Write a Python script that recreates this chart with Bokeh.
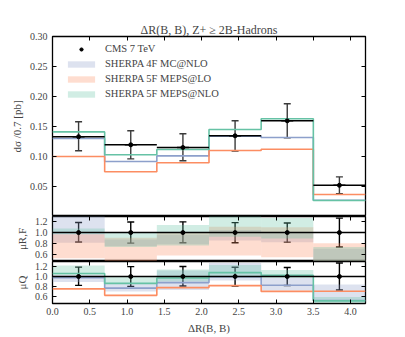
import numpy as np
from bokeh.plotting import figure
from bokeh.layouts import column
from bokeh.models import (ColumnDataSource, Whisker, TeeHead, LinearAxis, FixedTicker,
                          Range1d, Legend, LegendItem, NumeralTickFormatter)
from bokeh.embed import file_html
from bokeh.resources import INLINE

# ---------------- data ----------------
edges = [0.0, 0.7, 1.4, 2.1, 2.8, 3.5, 4.2]
cms = [0.133, 0.1195, 0.115, 0.1345, 0.1595, 0.052]
cms_lo = [0.1095, 0.096, 0.093, 0.109, 0.131, 0.038]
cms_hi = [0.158, 0.143, 0.138, 0.1595, 0.188, 0.066]
mc4f = [0.130, 0.0917, 0.101, 0.134, 0.1317, 0.027]
lo5f = [0.100, 0.0745, 0.0895, 0.110, 0.112, 0.0367]
nlo5f = [0.141, 0.103, 0.1117, 0.145, 0.163, 0.0267]

# mu_{R,F} variation bands (ratio to data)
rf_4f_lo = [0.81, 0.75, 0.78, 0.85, 0.82, 0.40]
rf_4f_hi = [1.40, 0.87, 0.96, 1.05, 1.00, 0.70]
rf_lo_lo = [0.52, 0.40, 0.57, 0.57, 0.54, 0.40]
rf_lo_hi = [0.97, 0.905, 1.01, 1.11, 1.10, 0.80]
rf_nlo_lo = [0.97, 0.73, 0.76, 0.92, 0.89, 0.40]
rf_nlo_hi = [1.076, 0.99, 1.14, 1.40, 1.27, 0.73]

# mu_Q variation bands (ratio to data)
q_4f_lo = [0.89, 0.70, 0.73, 0.92, 0.72, 0.52]
q_4f_hi = [1.03, 0.87, 1.12, 1.27, 0.97, 0.84]
q_nlo_lo = [1.03, 0.87, 0.90, 0.98, 0.97, 0.47]
q_nlo_hi = [1.22, 1.00, 1.14, 1.23, 1.13, 0.59]

labels = ["CMS 7 TeV", "SHERPA 4F MC@NLO", "SHERPA 5F MEPS@LO", "SHERPA 5F MEPS@NLO"]
x_ticks = [0.0, 0.5, 1.0, 1.5, 2.0, 2.5, 3.0, 3.5, 4.0]
main_ticks = [0.05, 0.10, 0.15, 0.20, 0.25, 0.30]
ratio_ticks = [0.6, 0.8, 1.0, 1.2]

BLUE, ORANGE, GREEN = "#8da0cb", "#fc8d62", "#66c2a5"
FONT = "Liberation Serif"
W = 380
BL, BR = 52, 15

left = edges[:-1]
right = edges[1:]
centers = [(a + b) / 2 for a, b in zip(left, right)]
cms_a = np.array(cms)


def tick_axis(ticks):
    return LinearAxis(ticker=FixedTicker(ticks=ticks), major_tick_in=4, major_tick_out=0,
                      minor_tick_line_color=None, axis_line_color=None,
                      major_label_text_font_size="1px", major_label_text_color=None,
                      major_label_standoff=0)


def style(p, yticks, fmt):
    p.toolbar_location = None
    p.outline_line_color = "black"
    p.outline_line_width = 1.3
    p.xgrid.visible = False
    p.ygrid.visible = False
    p.min_border_left = BL
    p.min_border_right = BR
    ax = p.yaxis[0]
    ax.ticker = FixedTicker(ticks=yticks)
    ax.formatter = NumeralTickFormatter(format=fmt)
    ax.major_tick_in = 4
    ax.major_tick_out = 0
    ax.minor_tick_line_color = None
    ax.axis_line_color = None
    ax.major_label_text_font = FONT
    ax.major_label_text_font_size = "10px"
    ax.major_label_standoff = 5
    ax.axis_label_text_font = FONT
    ax.axis_label_text_font_style = "normal"
    ax.axis_label_text_font_size = "11px"
    ax.axis_label_standoff = 4


# ---------------- main panel ----------------
p1 = figure(width=W, height=216, x_range=Range1d(0, 4.2), y_range=Range1d(0, 0.30),
            output_backend="svg", toolbar_location=None, x_axis_location=None)
p1.min_border_top = 36
p1.min_border_bottom = 0
p1.yaxis.axis_label = "dσ /0.7 [pb]"
style(p1, main_ticks, "0.00")
p1.add_layout(tick_axis(main_ticks), "right")
p1.add_layout(tick_axis(x_ticks), "above")
p1.title.text = "ΔR(B, B), Z+ ≥ 2B-Hadrons"
p1.title.align = "center"
p1.title.text_font = FONT
p1.title.text_font_size = "12px"
p1.title.text_font_style = "normal"
p1.title.standoff = 0

p1.step(edges, mc4f + [mc4f[-1]], mode="after", line_color=BLUE, line_width=1.6)
p1.step(edges, lo5f + [lo5f[-1]], mode="after", line_color=ORANGE, line_width=1.6)
p1.step(edges, nlo5f + [nlo5f[-1]], mode="after", line_color=GREEN, line_width=1.6)

src = ColumnDataSource(dict(x0=left, x1=right, xc=centers, y=cms, lo=cms_lo, hi=cms_hi,
                            b4=mc4f, o5=lo5f, g5=nlo5f))
p1.segment(x0="x0", x1="x1", y0="y", y1="y", source=src, line_color="black", line_width=1.6)
p1.add_layout(Whisker(base="xc", lower="lo", upper="hi", source=src, dimension="height",
                      line_color="#3a3a3a", line_width=1.4,
                      upper_head=TeeHead(size=7, line_color="#3a3a3a", line_width=1.4),
                      lower_head=TeeHead(size=7, line_color="#3a3a3a", line_width=1.4)))
# dash markers hidden under the black bin bars (used for the legend glyph)
leg_dash = p1.scatter("xc", "y", source=src, marker="dash", size=12, line_color="black",
                      line_width=1.6)
r_pts = p1.scatter("xc", "y", source=src, size=4, color="black")

# zero-height quads on the step lines (legend glyphs of the bands)
leg_b = p1.quad(left="x0", right="x1", top="b4", bottom="b4", source=src,
                fill_color=BLUE, fill_alpha=0.3, line_color=None)
leg_o = p1.quad(left="x0", right="x1", top="o5", bottom="o5", source=src,
                fill_color=ORANGE, fill_alpha=0.3, line_color=None)
leg_g = p1.quad(left="x0", right="x1", top="g5", bottom="g5", source=src,
                fill_color=GREEN, fill_alpha=0.3, line_color=None)
legend = Legend(items=[LegendItem(label=labels[0], renderers=[leg_dash, r_pts]),
                       LegendItem(label=labels[1], renderers=[leg_b]),
                       LegendItem(label=labels[2], renderers=[leg_o]),
                       LegendItem(label=labels[3], renderers=[leg_g])],
                location=(12, 117), padding=0, margin=0, spacing=4,
                glyph_width=34, glyph_height=8, label_height=8, label_standoff=7,
                label_text_font=FONT, label_text_font_size="10.5px",
                background_fill_alpha=0, border_line_color=None)
p1.add_layout(legend, "center")


# ---------------- ratio panels ----------------
def ratio_panel(height, bands, lines, label, bottom):
    p = figure(width=W, height=height, x_range=p1.x_range, y_range=Range1d(0.46, 1.30),
               output_backend="svg", toolbar_location=None,
               x_axis_location="below" if bottom else None)
    p.min_border_top = 0
    p.min_border_bottom = 30 if bottom else 0
    p.yaxis.axis_label = label
    style(p, ratio_ticks, "0.0")
    if bottom:
        ax = p.xaxis[0]
        ax.ticker = FixedTicker(ticks=x_ticks)
        ax.formatter = NumeralTickFormatter(format="0.0")
        ax.major_tick_in = 4
        ax.major_tick_out = 0
        ax.minor_tick_line_color = None
        ax.axis_line_color = None
        ax.major_label_text_font = FONT
        ax.major_label_text_font_size = "10px"
        ax.major_label_standoff = 4
        ax.axis_label = "ΔR(B, B)"
        ax.axis_label_text_font = FONT
        ax.axis_label_text_font_style = "normal"
        ax.axis_label_text_font_size = "11px"
        ax.axis_label_standoff = 4
    p.add_layout(tick_axis(ratio_ticks), "right")
    p.add_layout(tick_axis(x_ticks), "above")
    for lo, hi, col in bands:
        p.quad(left=left, right=right, bottom=lo, top=hi, fill_color=col, fill_alpha=0.3,
               line_color=None)
    for vals, col in lines:
        r = list(np.array(vals) / cms_a)
        p.step(edges, r + [r[-1]], mode="after", line_color=col, line_width=1.6)
    p.segment(x0=[0.0], x1=[4.2], y0=[1.0], y1=[1.0], line_color="black", line_width=1.6)
    rs = ColumnDataSource(dict(xc=centers, one=[1.0] * 6,
                               lo=list(np.array(cms_lo) / cms_a),
                               hi=list(np.array(cms_hi) / cms_a)))
    p.add_layout(Whisker(base="xc", lower="lo", upper="hi", source=rs, dimension="height",
                         line_color="black", line_width=1.4,
                         upper_head=TeeHead(size=7, line_color="black", line_width=1.4),
                         lower_head=TeeHead(size=7, line_color="black", line_width=1.4)))
    p.scatter("xc", "one", source=rs, size=4, color="black")
    return p


p2 = ratio_panel(45, [(rf_4f_lo, rf_4f_hi, BLUE), (rf_lo_lo, rf_lo_hi, ORANGE),
                      (rf_nlo_lo, rf_nlo_hi, GREEN)], [], "μR,F", False)
p3 = ratio_panel(75, [(q_4f_lo, q_4f_hi, BLUE), (q_nlo_lo, q_nlo_hi, GREEN)],
                 [(mc4f, BLUE), (lo5f, ORANGE), (nlo5f, GREEN)], "μQ", True)

layout = column(p1, p2, p3)
open("out.html", "w").write(file_html(layout, INLINE))
